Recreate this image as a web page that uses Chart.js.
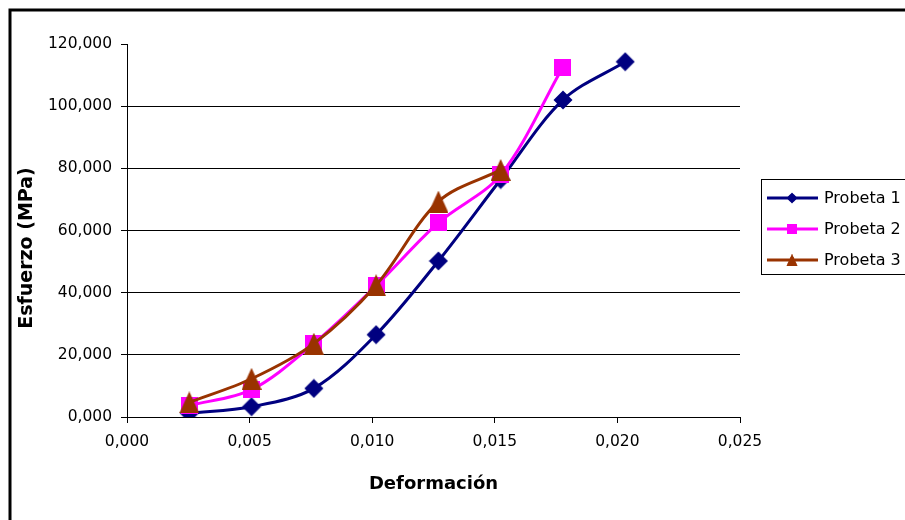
<!DOCTYPE html>
<html>
<head>
<meta charset="utf-8">
<script src="https://cdn.jsdelivr.net/npm/chart.js@4/dist/chart.umd.min.js"></script>
<style>
  html, body { margin: 0; padding: 0; background: #fff; overflow: hidden; }
  canvas { display: block; }
</style>
</head>
<body>
<canvas id="c" width="905" height="520"></canvas>
<script>
// Strain values (shared by all three specimens)
const deformacion = [0.00254, 0.00508, 0.00762, 0.01016, 0.0127, 0.01524, 0.01778, 0.02032];
// Stress in MPa for each specimen
const probeta1 = [1.2, 3.3, 9.2, 26.5, 50.2, 76.4, 102.0, 114.3];
const probeta2 = [3.7, 8.8, 23.6, 42.2, 62.5, 77.9, 112.6];
const probeta3 = [4.7, 12.3, 23.6, 42.4, 69.3, 79.5];
const seriesNames = ['Probeta 1', 'Probeta 2', 'Probeta 3'];
// Axis ticks
const xTicks = [0, 0.005, 0.010, 0.015, 0.020, 0.025];
const yTicks = [0, 20, 40, 60, 80, 100, 120];

const xTitle = 'Deformación';
const yTitle = 'Esfuerzo (MPa)';

const NAVY = '#000080', MAGENTA = '#FF00FF', BROWN = '#993300';
const FONT = '"DejaVu Sans", sans-serif';

// Marker images
function marker(w, h, color, draw) {
  const c = document.createElement('canvas');
  c.width = w; c.height = h;
  const g = c.getContext('2d');
  g.fillStyle = color;
  g.beginPath();
  draw(g, w, h);
  g.closePath();
  g.fill();
  return c;
}
const diamond = marker(20, 20, NAVY, (g, w, h) => {
  g.moveTo(w / 2, 0.5); g.lineTo(w - 0.5, h / 2); g.lineTo(w / 2, h - 0.5); g.lineTo(0.5, h / 2);
});
const square = marker(17, 17, MAGENTA, (g, w, h) => { g.rect(0, 0, w, h); });
const triangle = marker(20, 22, BROWN, (g, w, h) => {
  g.moveTo(w / 2, 0); g.lineTo(w, h); g.lineTo(0, h);
});
const markers = [diamond, square, triangle];
const colors = [NAVY, MAGENTA, BROWN];

const fmt = v => Number(v).toFixed(3).replace('.', ',');
const pts = ys => ys.map((y, i) => ({ x: deformacion[i], y }));

const decor = {
  id: 'decor',
  beforeDraw(chart) {
    const ctx = chart.ctx;
    ctx.save();
    ctx.fillStyle = '#fff';
    ctx.fillRect(0, 0, chart.width, chart.height);
    ctx.strokeStyle = '#000';
    ctx.lineWidth = 3;
    ctx.strokeRect(10, 10, 1200, 1200);
    ctx.restore();
  },
  afterDraw(chart) {
    const ctx = chart.ctx;
    ctx.save();
    // vertical axis title
    ctx.translate(27, 248);
    ctx.rotate(-Math.PI / 2);
    ctx.font = 'bold 19px ' + FONT;
    ctx.fillStyle = '#000';
    ctx.textAlign = 'center';
    ctx.textBaseline = 'middle';
    ctx.fillText(yTitle, 0, 0);
    ctx.restore();

    // legend box
    ctx.save();
    ctx.strokeStyle = '#000';
    ctx.lineWidth = 1;
    ctx.fillStyle = '#fff';
    ctx.fillRect(761.5, 179.5, 300, 95);
    ctx.strokeRect(761.5, 179.5, 300, 95);
    const rows = [198, 229, 260];
    chart.data.datasets.forEach((ds, i) => {
      const y = rows[i];
      ctx.strokeStyle = ds.borderColor;
      ctx.lineWidth = 3;
      ctx.beginPath();
      ctx.moveTo(767, y);
      ctx.lineTo(818, y);
      ctx.stroke();
      const m = markers[i];
      const s = 0.58;
      ctx.drawImage(m, 792 - m.width * s / 2, y - m.height * s / 2, m.width * s, m.height * s);
      ctx.fillStyle = '#000';
      ctx.font = '16px ' + FONT;
      ctx.textAlign = 'left';
      ctx.textBaseline = 'middle';
      ctx.fillText(ds.label, 824, y + 1);
    });
    ctx.restore();
  }
};

new Chart(document.getElementById('c'), {
  type: 'line',
  data: {
    datasets: [probeta1, probeta2, probeta3].map((ys, i) => ({
      label: seriesNames[i],
      data: pts(ys),
      borderColor: colors[i],
      backgroundColor: colors[i],
      borderWidth: 3,
      tension: 0.33,
      pointStyle: markers[i],
      pointRadius: 10,
      pointHoverRadius: 10,
      fill: false,
      order: 2 - i
    }))
  },
  options: {
    responsive: false,
    animation: false,
    events: [],
    layout: { padding: { left: 0, top: 44, right: 165, bottom: 0 } },
    plugins: { legend: { display: false }, tooltip: { enabled: false } },
    scales: {
      x: {
        type: 'linear',
        min: 0, max: 0.025,
        afterBuildTicks: s => { s.ticks = xTicks.map(v => ({ value: v })); },
        afterFit: s => { s.height = 103; },
        border: { color: '#000', width: 1 },
        grid: { drawOnChartArea: false, drawTicks: true, tickLength: 6, tickColor: '#000' },
        ticks: { color: '#000', font: { family: FONT, size: 15.5 }, padding: 10, maxRotation: 0, callback: v => fmt(v) },
        title: { display: true, text: xTitle, color: '#000', font: { family: FONT, size: 18, weight: 'bold' }, padding: { top: 0, bottom: 25 } }
      },
      y: {
        type: 'linear',
        min: 0, max: 120,
        afterBuildTicks: s => { s.ticks = yTicks.map(v => ({ value: v })); },
        afterFit: s => { s.width = 127; },
        border: { color: '#000', width: 1 },
        grid: {
          color: c => (c.tick && c.tick.value === 120) ? 'rgba(0,0,0,0)' : '#000',
          lineWidth: 1, drawTicks: true, tickLength: 6, tickColor: '#000'
        },
        ticks: { color: '#000', font: { family: FONT, size: 15.5 }, padding: 9, callback: v => fmt(v) }
      }
    }
  },
  plugins: [decor]
});
</script>
</body>
</html>
